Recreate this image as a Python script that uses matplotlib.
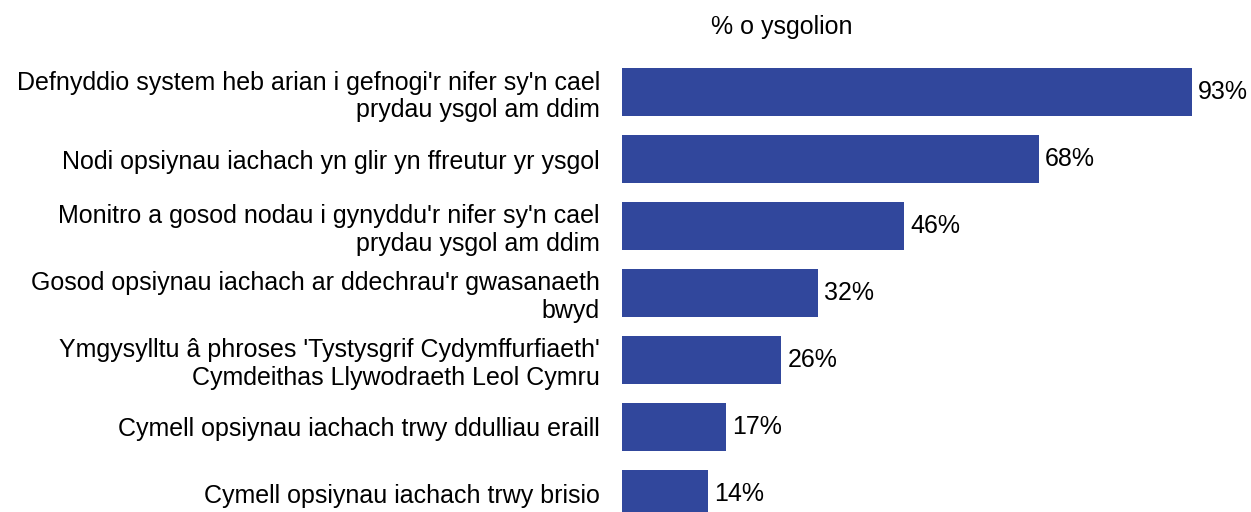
import matplotlib
matplotlib.use('Agg')
import matplotlib.pyplot as plt

# data
labels = [
    "Defnyddio system heb arian i gefnogi'r nifer sy'n cael\nprydau ysgol am ddim",
    "Nodi opsiynau iachach yn glir yn ffreutur yr ysgol",
    "Monitro a gosod nodau i gynyddu'r nifer sy'n cael\nprydau ysgol am ddim",
    "Gosod opsiynau iachach ar ddechrau'r gwasanaeth\nbwyd",
    "Ymgysylltu â phroses 'Tystysgrif Cydymffurfiaeth'\nCymdeithas Llywodraeth Leol Cymru",
    "Cymell opsiynau iachach trwy ddulliau eraill",
    "Cymell opsiynau iachach trwy brisio",
]
values = [93, 68, 46, 32, 26, 17, 14]
axis_title = "% o ysgolion"

plt.rcParams['font.family'] = ['Liberation Sans', 'DejaVu Sans']
fs = 18

W, H = 1251, 512
fig = plt.figure(figsize=(W / 100, H / 100), dpi=100)

# axes placed in pixel terms: bars start at x=622, 0..100 spans ~613 px
left, right = 622, 622 + 612.9
ax = fig.add_axes((left / W, 0, (right - left) / W, 462 / H))

pos = list(range(len(values)))
ax.barh(pos, values, height=0.716, color='#31479C')
ax.set_xlim(0, 100)
ax.set_ylim(6.269, -0.627)

for i, v in enumerate(values):
    ax.text(v + 1.0, i, f"{v}%", va='center', ha='left', fontsize=fs, color='black')

ax.set_yticks(pos)
ax.set_yticklabels(labels, fontsize=fs, linespacing=1.2)
ax.tick_params(axis='y', length=0, pad=16)
ax.set_xticks([])
for s in ax.spines.values():
    s.set_visible(False)

fig.text(782 / W, 1 - 27 / H, axis_title, ha='center', va='center', fontsize=fs)

fig.savefig('out.png', dpi=100)
